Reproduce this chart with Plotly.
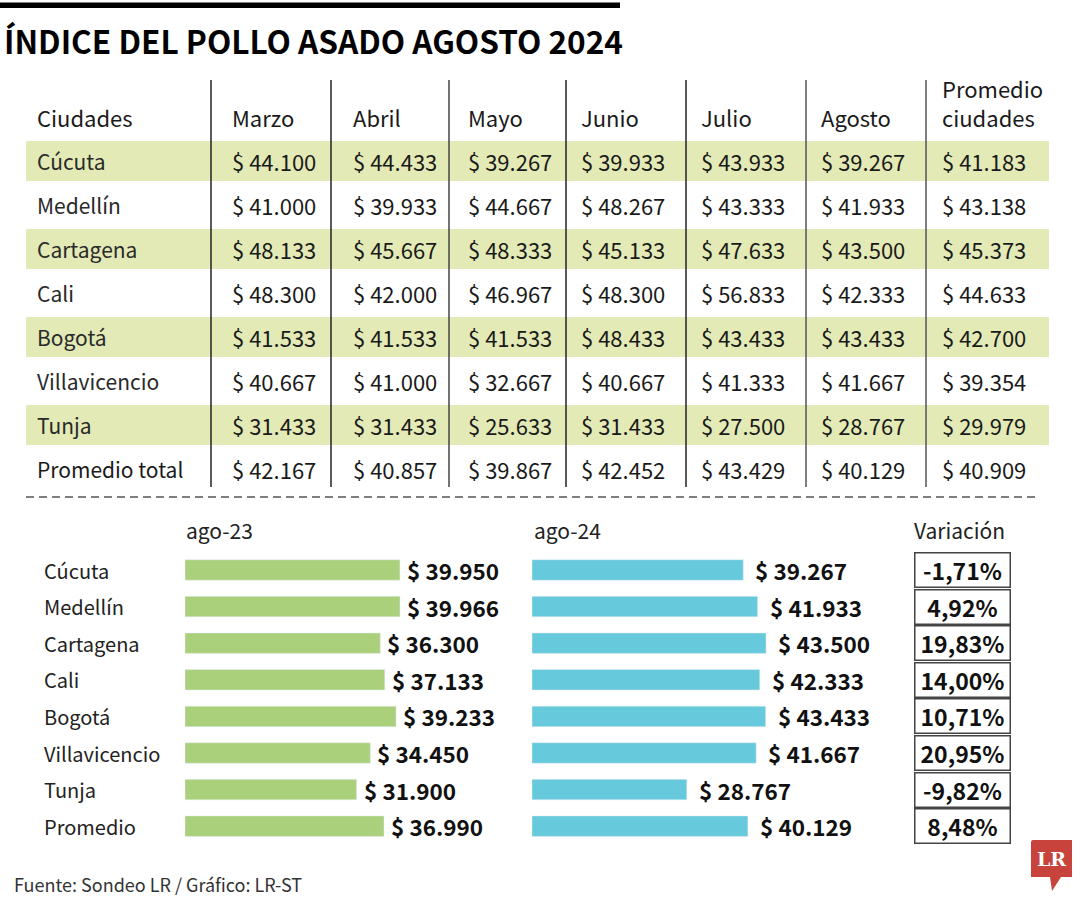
import plotly.graph_objects as go

# ---------------- data ----------------
MESES = ["Marzo", "Abril", "Mayo", "Junio", "Julio", "Agosto"]
CIUDADES_TABLA = ["Cúcuta", "Medellín", "Cartagena", "Cali", "Bogotá", "Villavicencio", "Tunja", "Promedio total"]
MARZO = [44100, 41000, 48133, 48300, 41533, 40667, 31433, 42167]
ABRIL = [44433, 39933, 45667, 42000, 41533, 41000, 31433, 40857]
MAYO = [39267, 44667, 48333, 46967, 41533, 32667, 25633, 39867]
JUNIO = [39933, 48267, 45133, 48300, 48433, 40667, 31433, 42452]
JULIO = [43933, 43333, 47633, 56833, 43433, 41333, 27500, 43429]
AGOSTO = [39267, 41933, 43500, 42333, 43433, 41667, 28767, 40129]
PROMEDIO_CIUDADES = [41183, 43138, 45373, 44633, 42700, 39354, 29979, 40909]

CIUDADES_BARRAS = ["Cúcuta", "Medellín", "Cartagena", "Cali", "Bogotá", "Villavicencio", "Tunja", "Promedio"]
AGO_23 = [39950, 39966, 36300, 37133, 39233, 34450, 31900, 36990]
AGO_24 = [39267, 41933, 43500, 42333, 43433, 41667, 28767, 40129]
VARIACION = [-1.71, 4.92, 19.83, 14.00, 10.71, 20.95, -9.82, 8.48]

# ---------------- style / layout helpers ----------------
W, H = 1080, 900
FONT = "Noto Sans CJK JP, Roboto, sans-serif"
TXT = "#1a1a1a"
GREEN = "#abd07b"
BLUE = "#67c9dc"
BAND = "#e3eab6"


def px(x):
    return x / W


def py(y):
    return 1 - y / H


def money(v):
    return "$ " + f"{v:,}".replace(",", ".")


def pct(v):
    return f"{v:.2f}".replace(".", ",") + "%"


fig = go.Figure()

# ---------------- bar charts ----------------
fig.add_trace(go.Bar(x=AGO_23, y=CIUDADES_BARRAS, orientation="h", marker_color=GREEN,
                     width=0.56, xaxis="x", yaxis="y", hoverinfo="skip"))
fig.add_trace(go.Bar(x=AGO_24, y=CIUDADES_BARRAS, orientation="h", marker_color=BLUE,
                     width=0.56, xaxis="x2", yaxis="y", hoverinfo="skip"))
# invisible anchor trace for the table axes
fig.add_trace(go.Scatter(x=[0.5], y=[0], xaxis="x3", yaxis="y3", mode="markers",
                         marker=dict(opacity=0), hoverinfo="skip"))

BAR_SPAN = 269  # px for 50000
XMAX = 50000
ann = []
shapes = []

VAL_FONT = dict(family=FONT, size=22.5, color="#111")
for c, v in zip(CIUDADES_BARRAS, AGO_23):
    ann.append(dict(x=v, y=c, xref="x", yref="y", text="<b>" + money(v) + "</b>",
                    xanchor="left", yanchor="middle", xshift=5, showarrow=False, font=VAL_FONT))
for c, v in zip(CIUDADES_BARRAS, AGO_24):
    ann.append(dict(x=v, y=c, xref="x2", yref="y", text="<b>" + money(v) + "</b>",
                    xanchor="left", yanchor="middle", xshift=10, showarrow=False, font=VAL_FONT))
for c, v in zip(CIUDADES_BARRAS, VARIACION):
    ann.append(dict(x=px(962), y=c, xref="paper", yref="y", text="<b>" + pct(v) + "</b>",
                    xanchor="center", yanchor="middle", showarrow=False,
                    width=92, height=31, borderpad=1, borderwidth=1.5, bordercolor="#444",
                    bgcolor="white", font=dict(family=FONT, size=23, color="#111")))
for c in CIUDADES_BARRAS:
    ann.append(dict(x=px(42), y=c, xref="paper", yref="y", text=c, xanchor="left",
                    yanchor="middle", showarrow=False,
                    font=dict(family=FONT, size=20, color="#222")))

for t, x, anc in [("ago-23", 184, "left"), ("ago-24", 532, "left"), ("Variación", 959, "center")]:
    ann.append(dict(x=px(x), y=py(530), xref="paper", yref="paper", text=t, xanchor=anc,
                    yanchor="middle", showarrow=False,
                    font=dict(family=FONT, size=21, color="#222")))

# ---------------- table ----------------
TEXT_X = [35, 230, 351, 466, 579, 699, 819, 940]
LINE_X = [211, 331, 449, 566, 686, 806, 926]
LINE_C = ["#222", "#222", "#444", "#222", "#222", "#555", "#555"]
columns = [MARZO, ABRIL, MAYO, JUNIO, JULIO, AGOSTO, PROMEDIO_CIUDADES]
CELL_FONT = dict(family=FONT, size=22, color=TXT)

# bands (Cúcuta, Cartagena, Bogotá, Tunja)
for i in range(len(CIUDADES_TABLA)):
    if i % 2 == 0 and i < 7:
        shapes.append(dict(type="rect", xref="paper", yref="y3", x0=px(26), x1=px(1049),
                           y0=i + 1 - 0.455, y1=i + 1 + 0.455, fillcolor=BAND,
                           line=dict(width=0), layer="below"))
for lx, lc in zip(LINE_X, LINE_C):
    shapes.append(dict(type="line", xref="paper", yref="y3", x0=px(lx), x1=px(lx),
                       y0=-0.84, y1=8.41, line=dict(color=lc, width=1.5)))

headers = ["Ciudades"] + MESES + ["ciudades"]
for x, h in zip(TEXT_X, headers):
    ann.append(dict(x=px(x), y=0, xref="paper", yref="y3", text=h, xanchor="left",
                    yanchor="middle", showarrow=False, font=CELL_FONT))
ann.append(dict(x=px(TEXT_X[-1]), y=-0.66, xref="paper", yref="y3", text="Promedio",
                xanchor="left", yanchor="middle", showarrow=False, font=CELL_FONT))

for r, city in enumerate(CIUDADES_TABLA):
    ann.append(dict(x=px(TEXT_X[0]), y=r + 1, xref="paper", yref="y3", text=city,
                    xanchor="left", yanchor="middle", showarrow=False,
                    font=dict(family=FONT, size=21, color=TXT if r == 7 else "#2a2a2a")))
    for col, x in zip(columns, TEXT_X[1:]):
        ann.append(dict(x=px(x), y=r + 1, xref="paper", yref="y3", text=money(col[r]),
                        xanchor="left", yanchor="middle", showarrow=False, font=CELL_FONT))

# ---------------- decorations ----------------
shapes.append(dict(type="rect", xref="paper", yref="paper", x0=0, x1=px(620), y0=py(8),
                   y1=py(2.5), fillcolor="#000", line=dict(width=0)))
shapes.append(dict(type="line", xref="paper", yref="paper", x0=px(26), x1=px(1036), y0=py(497),
                   y1=py(497), line=dict(color="#555", width=1.3, dash="8px,5px")))
# logo
logo = (f"M {px(1031)},{py(842)} Q {px(1031)},{py(840)} {px(1033)},{py(840)} "
        f"L {px(1072)},{py(840)} L {px(1072)},{py(877)} L {px(1061)},{py(877)} "
        f"L {px(1052)},{py(891)} L {px(1050)},{py(877)} L {px(1031)},{py(877)} Z")
shapes.append(dict(type="path", xref="paper", yref="paper", path=logo, fillcolor="#c9433d",
                   line=dict(width=0)))
ann.append(dict(x=px(1051.5), y=py(859), xref="paper", yref="paper", text="<b>LR</b>",
                xanchor="center", yanchor="middle", showarrow=False,
                font=dict(family="DejaVu Serif, Liberation Serif, serif", size=19, color="white")))

ann.append(dict(x=px(2), y=py(40), xref="paper", yref="paper",
                text="<b>ÍNDICE DEL POLLO ASADO AGOSTO 2024</b>", xanchor="left",
                yanchor="middle", showarrow=False, font=dict(family=FONT, size=31.6, color="#000")))
ann.append(dict(x=px(12), y=py(884), xref="paper", yref="paper",
                text="Fuente: Sondeo LR / Gráfico: LR-ST", xanchor="left", yanchor="middle",
                showarrow=False, font=dict(family=FONT, size=18, color="#333")))

hidden = dict(visible=False, showgrid=False, zeroline=False, fixedrange=True)
fig.update_layout(
    width=W, height=H, margin=dict(l=0, r=0, t=0, b=0),
    paper_bgcolor="white", plot_bgcolor="rgba(0,0,0,0)", showlegend=False,
    barmode="overlay",
    xaxis=dict(domain=[px(185), px(185 + BAR_SPAN)], range=[0, XMAX], anchor="y", **hidden),
    xaxis2=dict(domain=[px(532), px(532 + BAR_SPAN)], range=[0, XMAX], anchor="y", **hidden),
    yaxis=dict(domain=[py(844.5), py(551.7)], range=[7.5, -0.5], anchor="x",
               categoryorder="array", categoryarray=CIUDADES_BARRAS, **hidden),
    xaxis3=dict(domain=[0, 1], range=[0, 1], anchor="y3", **hidden),
    yaxis3=dict(domain=[py(491), py(51)], range=[8.5, -1.5], anchor="x3", **hidden),
    annotations=ann, shapes=shapes,
)

fig.write_html("out.html", config={"displayModeBar": False, "staticPlot": True},
               post_script="document.body.style.margin='0';document.body.style.padding='0';")
